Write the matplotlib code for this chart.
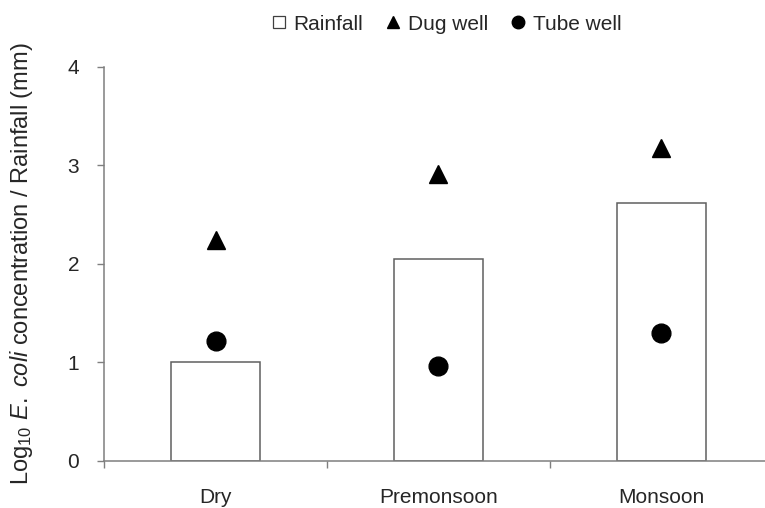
import numpy as np
import matplotlib.pyplot as plt
from matplotlib.lines import Line2D

plt.rcParams['font.family'] = ['Liberation Sans', 'DejaVu Sans']
plt.rcParams['mathtext.fontset'] = 'custom'
plt.rcParams['mathtext.rm'] = 'Liberation Sans'
plt.rcParams['mathtext.it'] = 'Liberation Sans:italic'

seasons = ['Dry', 'Premonsoon', 'Monsoon']
rainfall = [1.00, 2.05, 2.62]
dug_well = [2.24, 2.91, 3.17]
tube_well = [1.22, 0.96, 1.30]

text_col = '#262626'
line_col = '#7f7f7f'

fig = plt.figure(figsize=(7.65, 5.08), dpi=100)
ax = fig.add_axes([0.1363, 0.0931, 0.8737, 0.7756])

x = np.arange(len(seasons))
ax.bar(x, rainfall, width=0.4, color='white', edgecolor='#5f5f5f', linewidth=1.1, zorder=2)
ax.plot(x, dug_well, linestyle='none', marker='^', ms=13.5, color='black', zorder=3)
ax.plot(x, tube_well, linestyle='none', marker='o', ms=13.5, color='black', zorder=3)

ax.set_xlim(-0.5, 2.5)
ax.set_ylim(0, 4)
ax.set_yticks([0, 1, 2, 3, 4])

ax.set_xticks(x)
ax.set_xticklabels(seasons)
ax.set_xticks([-0.5, 0.5, 1.5, 2.5], minor=True)
ax.tick_params(axis='x', which='major', length=0, pad=20, labelsize=15, labelcolor=text_col)
ax.tick_params(axis='x', which='minor', length=5, width=1, color=line_col)
ax.tick_params(axis='y', length=5, width=1, color=line_col, pad=13,
               labelsize=15, labelcolor=text_col)

for side in ['top', 'right']:
    ax.spines[side].set_visible(False)
for side in ['left', 'bottom']:
    ax.spines[side].set_color(line_col)
    ax.spines[side].set_linewidth(1.1)

ax.set_ylabel(r'Log$_{10}$ $\mathit{E.\ coli}$ concentration / Rainfall (mm)',
              fontsize=17, color=text_col)
ax.yaxis.set_label_coords(-0.104, 0.5)

handles = [
    Line2D([], [], linestyle='none', marker='s', ms=9, markerfacecolor='white',
           markeredgecolor='#404040', markeredgewidth=0.9),
    Line2D([], [], linestyle='none', marker='^', ms=9, color='black'),
    Line2D([], [], linestyle='none', marker='o', ms=9, color='black'),
]
fig.legend(handles, ['Rainfall', 'Dug well', 'Tube well'], loc='center',
           bbox_to_anchor=(446 / 765, 1 - 24 / 508), ncol=3, frameon=False,
           fontsize=15, labelcolor=text_col, handlelength=0.8, handletextpad=0.3,
           columnspacing=1.05, borderpad=0)

fig.savefig('out.png', dpi=100)
